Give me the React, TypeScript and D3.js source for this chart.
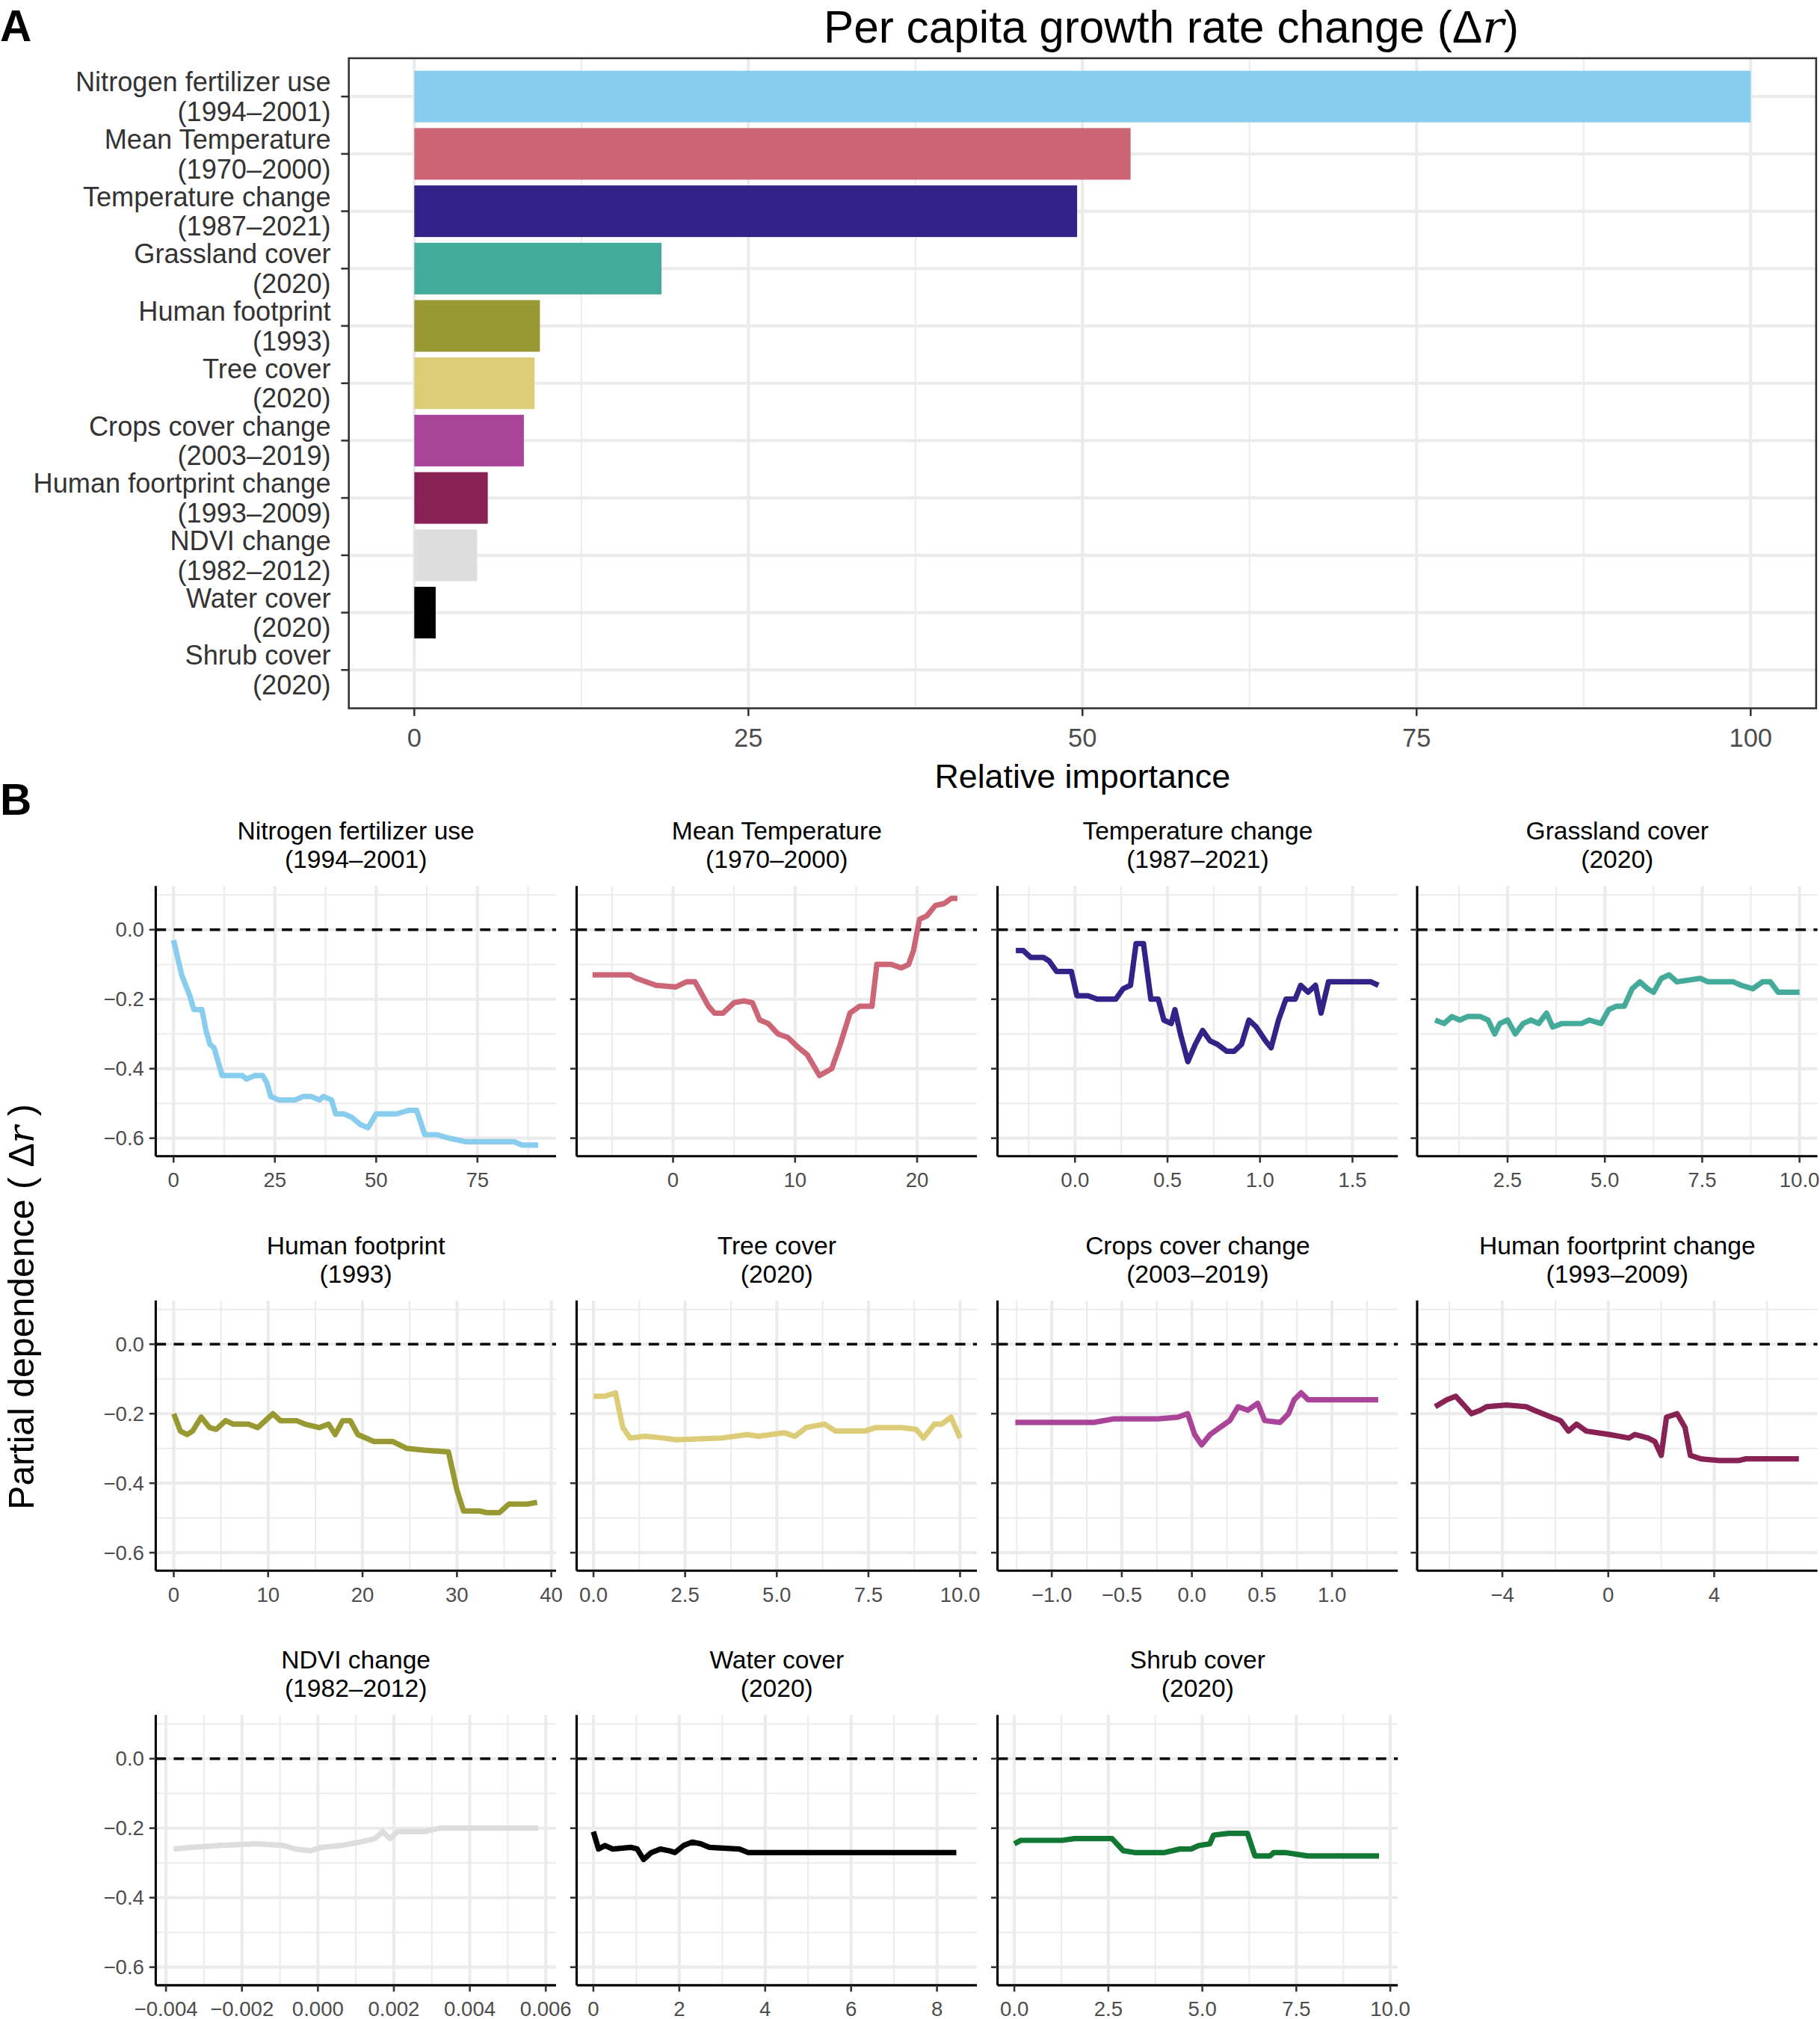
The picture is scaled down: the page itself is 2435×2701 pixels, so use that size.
import * as d3 from 'd3'

const categories = [
  ['Nitrogen fertilizer use', '(1994–2001)'],
  ['Mean Temperature', '(1970–2000)'],
  ['Temperature change', '(1987–2021)'],
  ['Grassland cover', '(2020)'],
  ['Human footprint', '(1993)'],
  ['Tree cover', '(2020)'],
  ['Crops cover change', '(2003–2019)'],
  ['Human foortprint change', '(1993–2009)'],
  ['NDVI change', '(1982–2012)'],
  ['Water cover', '(2020)'],
  ['Shrub cover', '(2020)'],
]
const importance = [100, 53.6, 49.6, 18.5, 9.4, 9.0, 8.2, 5.5, 4.7, 1.6, 0]
const colors = ['#88CCEE', '#CC6677', '#332288', '#44AA99', '#999933', '#DDCC77', '#AA4499', '#882255', '#DDDDDD', '#000000', '#117733']
const importanceTicks = [0, 25, 50, 75, 100]

type P = [number, number]
const nitrogen: P[] = [[0,-0.03],[2,-0.13],[4,-0.19],[5,-0.23],[7,-0.23],[8,-0.29],[9,-0.33],[10,-0.34],[11,-0.38],[12,-0.42],[15,-0.42],[17,-0.42],[18,-0.43],[20,-0.42],[22,-0.42],[23,-0.44],[24,-0.48],[26,-0.49],[28,-0.49],[30,-0.49],[32,-0.48],[34,-0.48],[36,-0.49],[37,-0.48],[39,-0.49],[40,-0.53],[42,-0.53],[44,-0.54],[46,-0.56],[48,-0.57],[50,-0.53],[53,-0.53],[55,-0.53],[58,-0.52],[60,-0.52],[62,-0.59],[65,-0.59],[68,-0.6],[72,-0.61],[75,-0.61],[80,-0.61],[84,-0.61],[86,-0.62],[90,-0.62]]
const meanTemp: P[] = [[-6.6,-0.13],[-3.5,-0.13],[-3,-0.14],[-1.4,-0.16],[0.2,-0.165],[1.1,-0.15],[1.8,-0.15],[2.9,-0.22],[3.4,-0.24],[4.1,-0.24],[5,-0.21],[5.8,-0.205],[6.5,-0.21],[7.1,-0.26],[7.8,-0.27],[8.6,-0.3],[9.4,-0.31],[10.3,-0.34],[11,-0.36],[12,-0.42],[13,-0.4],[13.7,-0.33],[14.5,-0.24],[15.3,-0.22],[16.3,-0.22],[16.7,-0.1],[17.9,-0.1],[18.7,-0.11],[19.3,-0.1],[19.7,-0.06],[20.2,0.03],[20.8,0.04],[21.5,0.07],[22.2,0.075],[22.8,0.09],[23.3,0.09]]
const tempChange: P[] = [[-0.32,-0.06],[-0.28,-0.06],[-0.24,-0.08],[-0.17,-0.08],[-0.14,-0.09],[-0.1,-0.12],[-0.02,-0.12],[0.01,-0.19],[0.07,-0.19],[0.12,-0.2],[0.22,-0.2],[0.26,-0.17],[0.3,-0.16],[0.33,-0.04],[0.37,-0.04],[0.41,-0.2],[0.45,-0.2],[0.48,-0.26],[0.52,-0.27],[0.54,-0.23],[0.57,-0.3],[0.61,-0.38],[0.65,-0.33],[0.69,-0.29],[0.73,-0.32],[0.77,-0.33],[0.82,-0.35],[0.86,-0.35],[0.9,-0.33],[0.94,-0.26],[0.98,-0.28],[1.03,-0.32],[1.06,-0.34],[1.1,-0.26],[1.14,-0.2],[1.19,-0.2],[1.22,-0.16],[1.26,-0.18],[1.3,-0.16],[1.33,-0.24],[1.37,-0.15],[1.6,-0.15],[1.64,-0.16]]
const grassland: P[] = [[0.64,-0.26],[0.87,-0.27],[1.07,-0.25],[1.27,-0.26],[1.47,-0.25],[1.8,-0.25],[2,-0.26],[2.17,-0.3],[2.3,-0.27],[2.5,-0.26],[2.7,-0.3],[2.9,-0.27],[3.1,-0.26],[3.3,-0.27],[3.5,-0.24],[3.66,-0.28],[3.9,-0.27],[4.4,-0.27],[4.6,-0.26],[4.9,-0.27],[5.1,-0.23],[5.3,-0.22],[5.5,-0.22],[5.7,-0.17],[5.9,-0.15],[6.1,-0.17],[6.25,-0.18],[6.45,-0.14],[6.65,-0.13],[6.85,-0.15],[7.45,-0.14],[7.65,-0.15],[8.3,-0.15],[8.5,-0.16],[8.8,-0.17],[9.05,-0.15],[9.25,-0.15],[9.45,-0.18],[10,-0.18]]
const footprint: P[] = [[0,-0.2],[0.7,-0.25],[1.4,-0.26],[2,-0.25],[2.9,-0.21],[3.8,-0.24],[4.5,-0.245],[5.5,-0.22],[6.3,-0.23],[7.9,-0.23],[8.9,-0.24],[9.7,-0.22],[10.5,-0.2],[11.3,-0.22],[13,-0.22],[13.9,-0.23],[15.4,-0.24],[16.4,-0.23],[17.1,-0.26],[17.9,-0.22],[18.7,-0.22],[19.5,-0.26],[21.2,-0.28],[23.2,-0.28],[24.7,-0.3],[26.6,-0.305],[29.1,-0.31],[30,-0.42],[30.7,-0.48],[32.4,-0.48],[33.2,-0.485],[34.5,-0.485],[35.5,-0.46],[37.5,-0.46],[38.5,-0.455]]
const tree: P[] = [[0,-0.15],[0.3,-0.15],[0.6,-0.14],[0.8,-0.24],[1,-0.27],[1.4,-0.265],[1.9,-0.27],[2.25,-0.275],[3.5,-0.27],[4.2,-0.26],[4.5,-0.265],[5.2,-0.255],[5.5,-0.265],[5.8,-0.24],[6.3,-0.23],[6.6,-0.25],[7.4,-0.25],[7.7,-0.24],[8.4,-0.24],[8.8,-0.245],[9,-0.27],[9.3,-0.23],[9.5,-0.23],[9.75,-0.21],[10,-0.27]]
const crops: P[] = [[-1.26,-0.225],[-0.7,-0.225],[-0.56,-0.215],[-0.24,-0.215],[-0.1,-0.21],[-0.03,-0.2],[0.02,-0.26],[0.07,-0.29],[0.13,-0.26],[0.2,-0.24],[0.27,-0.22],[0.33,-0.18],[0.4,-0.19],[0.47,-0.17],[0.52,-0.22],[0.63,-0.225],[0.69,-0.2],[0.73,-0.16],[0.78,-0.14],[0.83,-0.16],[1.33,-0.16]]
const footprintChange: P[] = [[-6.54,-0.18],[-6.1,-0.16],[-5.76,-0.15],[-5.4,-0.18],[-5.17,-0.2],[-4.83,-0.19],[-4.6,-0.18],[-3.85,-0.175],[-3.1,-0.18],[-2.8,-0.19],[-2.15,-0.21],[-1.8,-0.22],[-1.5,-0.25],[-1.2,-0.23],[-0.83,-0.25],[0.05,-0.26],[0.78,-0.27],[1,-0.26],[1.5,-0.27],[1.76,-0.28],[2,-0.32],[2.2,-0.21],[2.6,-0.2],[2.9,-0.24],[3.1,-0.32],[3.5,-0.33],[4.2,-0.335],[4.9,-0.335],[5.2,-0.33],[7.2,-0.33]]
const ndvi: P[] = [[-0.0038,-0.26],[-0.0033,-0.255],[-0.0026,-0.25],[-0.0016,-0.245],[-0.0009,-0.25],[-0.0006,-0.26],[-0.0002,-0.265],[0.0001,-0.255],[0.0006,-0.25],[0.0011,-0.24],[0.0015,-0.23],[0.0017,-0.21],[0.0019,-0.23],[0.0021,-0.21],[0.0028,-0.21],[0.0032,-0.2],[0.0058,-0.2]]
const water: P[] = [[0,-0.21],[0.12,-0.26],[0.27,-0.25],[0.45,-0.26],[0.87,-0.255],[1.02,-0.26],[1.17,-0.29],[1.35,-0.27],[1.56,-0.26],[1.77,-0.265],[1.9,-0.27],[2.1,-0.25],[2.3,-0.24],[2.5,-0.245],[2.7,-0.255],[3.4,-0.26],[3.6,-0.27],[3.9,-0.27],[8.45,-0.27]]
const shrub: P[] = [[0,-0.245],[0.17,-0.235],[1.27,-0.235],[1.6,-0.23],[2.6,-0.23],[2.9,-0.265],[3.2,-0.27],[4,-0.27],[4.4,-0.26],[4.7,-0.26],[4.9,-0.25],[5.2,-0.245],[5.3,-0.22],[5.7,-0.215],[6.2,-0.215],[6.4,-0.28],[6.8,-0.28],[6.9,-0.27],[7.2,-0.27],[7.8,-0.28],[9.7,-0.28]]

const series = [nitrogen, meanTemp, tempChange, grassland, footprint, tree, crops, footprintChange, ndvi, water, shrub]
const xDomains: P[] = [[-4.4, 94.4], [-7.9, 24.9], [-0.419, 1.745], [0.177, 10.46], [-1.91, 40.5], [-0.46, 10.46], [-1.387, 1.47], [-7.22, 7.9], [-0.00427, 0.00627], [-0.39, 8.93], [-0.447, 10.2]]
const xTicks = [[0, 25, 50, 75], [0, 10, 20], [0, 0.5, 1, 1.5], [2.5, 5, 7.5, 10], [0, 10, 20, 30, 40], [0, 2.5, 5, 7.5, 10], [-1, -0.5, 0, 0.5, 1], [-4, 0, 4], [-0.004, -0.002, 0, 0.002, 0.004, 0.006], [0, 2, 4, 6, 8], [0, 2.5, 5, 7.5, 10]]
const xFormats = ['d', 'd', '.1f', '.1f', 'd', '.1f', '.1f', 'd', '.3f', 'd', '.1f']
const yTicks = [0, -0.2, -0.4, -0.6]

const FONT = '"Liberation Sans", Arial, sans-serif'
const GRID = '#ebebeb'
const minus = (s: string) => s.replace('-', '−')

function Panel({ i }: { i: number }) {
  const col = i % 4
  const row = Math.floor(i / 4)
  const x0 = [121, 448, 775, 1101][col]
  const y0 = [688, 1010, 1332][row]
  const w = 311, h = 210
  const x = d3.scaleLinear().domain(xDomains[i]).range([x0, x0 + w])
  const y = d3.scaleLinear().domain([-0.652, 0.126]).range([y0 + h, y0])
  const ticks = xTicks[i]
  const minorX = ticks.slice(0, -1).map((t, k) => (t + ticks[k + 1]) / 2)
  const step = ticks[1] - ticks[0]
  if (x.invert(x0) < ticks[0] - step / 2) minorX.unshift(ticks[0] - step / 2)
  if (x.invert(x0 + w) > ticks[ticks.length - 1] + step / 2) minorX.push(ticks[ticks.length - 1] + step / 2)
  const fmt = d3.format(xFormats[i])
  const line = d3.line<P>().x(d => x(d[0])).y(d => y(d[1]))
  const [t1, t2] = categories[i]
  return (
    <g>
      <text x={x0 + w / 2} y={y0 - 36} textAnchor="middle" fontSize={19.5} fontFamily={FONT}>{t1}</text>
      <text x={x0 + w / 2} y={y0 - 14} textAnchor="middle" fontSize={19.5} fontFamily={FONT}>{t2}</text>
      {[-0.1, -0.3, -0.5, 0.1].map(v => <line key={'ym' + v} x1={x0} x2={x0 + w} y1={y(v)} y2={y(v)} stroke={GRID} strokeWidth={1.2} />)}
      {minorX.map(v => <line key={'xm' + v} x1={x(v)} x2={x(v)} y1={y0} y2={y0 + h} stroke={GRID} strokeWidth={1.2} />)}
      {yTicks.map(v => <line key={'y' + v} x1={x0} x2={x0 + w} y1={y(v)} y2={y(v)} stroke={GRID} strokeWidth={2.4} />)}
      {ticks.map(v => <line key={'x' + v} x1={x(v)} x2={x(v)} y1={y0} y2={y0 + h} stroke={GRID} strokeWidth={2.4} />)}
      <line x1={x0} x2={x0 + w} y1={y(0)} y2={y(0)} stroke="#000" strokeWidth={2} strokeDasharray="8,6" />
      <path d={line(series[i]) || ''} fill="none" stroke={colors[i]} strokeWidth={4.2} strokeLinejoin="round" />
      <line x1={x0} x2={x0} y1={y0} y2={y0 + h} stroke="#000" strokeWidth={1.8} />
      <line x1={x0} x2={x0 + w} y1={y0 + h} y2={y0 + h} stroke="#000" strokeWidth={1.8} />
      {ticks.map(v => (
        <g key={'xt' + v}>
          <line x1={x(v)} x2={x(v)} y1={y0 + h} y2={y0 + h + 5} stroke="#333" strokeWidth={1.5} />
          <text x={x(v)} y={y0 + h + 24} textAnchor="middle" fontSize={16} fill="#4d4d4d" fontFamily={FONT}>{minus(fmt(v))}</text>
        </g>
      ))}
      {yTicks.map(v => (
        <g key={'yt' + v}>
          <line x1={x0 - 5} x2={x0} y1={y(v)} y2={y(v)} stroke="#333" strokeWidth={1.5} />
          {col === 0 && <text x={x0 - 9} y={y(v) + 5.5} textAnchor="end" fontSize={16} fill="#4d4d4d" fontFamily={FONT}>{minus(d3.format('.1f')(v))}</text>}
        </g>
      ))}
    </g>
  )
}

export default function App() {
  const left = 271, right = 1411, top = 45, bottom = 550
  const x = d3.scaleLinear().domain([-4.9, 104.9]).range([left, right])
  const y = d3.scaleBand().domain(categories.map(c => c[0])).range([top + 7.5, bottom - 7.5]).paddingInner(0.1).paddingOuter(0.05)
  const minor = [12.5, 37.5, 62.5, 87.5]
  return (
    <svg width={2435} height={2701} viewBox="0 0 1414 1568" style={{ position: 'absolute', left: 0, top: 0, background: '#fff' }}>
      <rect width={1414} height={1568} fill="#fff" />
      <text x={0} y={32} fontSize={34} fontWeight="bold" fontFamily={FONT}>A</text>
      <text x={910} y={33} textAnchor="middle" fontSize={35} fontFamily={FONT}>Per capita growth rate change (<tspan>Δ</tspan><tspan fontStyle="italic" fontFamily="'DejaVu Serif', serif">r</tspan>)</text>
      {minor.map(v => <line key={v} x1={x(v)} x2={x(v)} y1={top} y2={bottom} stroke={GRID} strokeWidth={1.2} />)}
      {importanceTicks.map(v => <line key={v} x1={x(v)} x2={x(v)} y1={top} y2={bottom} stroke={GRID} strokeWidth={2.4} />)}
      {categories.map((c, i) => {
        const yc = (y(c[0]) || 0) + y.bandwidth() / 2
        return (
          <g key={c[0]}>
            <line x1={left} x2={right} y1={yc} y2={yc} stroke={GRID} strokeWidth={2.4} />
            <rect x={x(0)} y={y(c[0])} width={x(importance[i]) - x(0)} height={y.bandwidth()} fill={colors[i]} />
            <line x1={left - 6} x2={left} y1={yc} y2={yc} stroke="#333" strokeWidth={1.5} />
            <text x={257} y={yc - 4} textAnchor="end" fontSize={21} fill="#333" fontFamily={FONT}>{c[0]}</text>
            <text x={257} y={yc + 19} textAnchor="end" fontSize={21} fill="#333" fontFamily={FONT}>{c[1]}</text>
          </g>
        )
      })}
      <rect x={left} y={top} width={right - left} height={bottom - top} fill="none" stroke="#333" strokeWidth={1.5} />
      {importanceTicks.map(v => (
        <g key={'t' + v}>
          <line x1={x(v)} x2={x(v)} y1={bottom} y2={bottom + 6} stroke="#333" strokeWidth={1.5} />
          <text x={x(v)} y={bottom + 30} textAnchor="middle" fontSize={20} fill="#4d4d4d" fontFamily={FONT}>{v}</text>
        </g>
      ))}
      <text x={841} y={612} textAnchor="middle" fontSize={26} fontFamily={FONT}>Relative importance</text>
      <text x={0} y={633} fontSize={34} fontWeight="bold" fontFamily={FONT}>B</text>
      <text transform="translate(26,1015) rotate(-90)" textAnchor="middle" fontSize={28} fontFamily={FONT}>Partial dependence ( <tspan>Δ</tspan><tspan fontStyle="italic" fontFamily="'DejaVu Serif', serif">r</tspan> )</text>
      {series.map((_, i) => <Panel key={i} i={i} />)}
    </svg>
  )
}
